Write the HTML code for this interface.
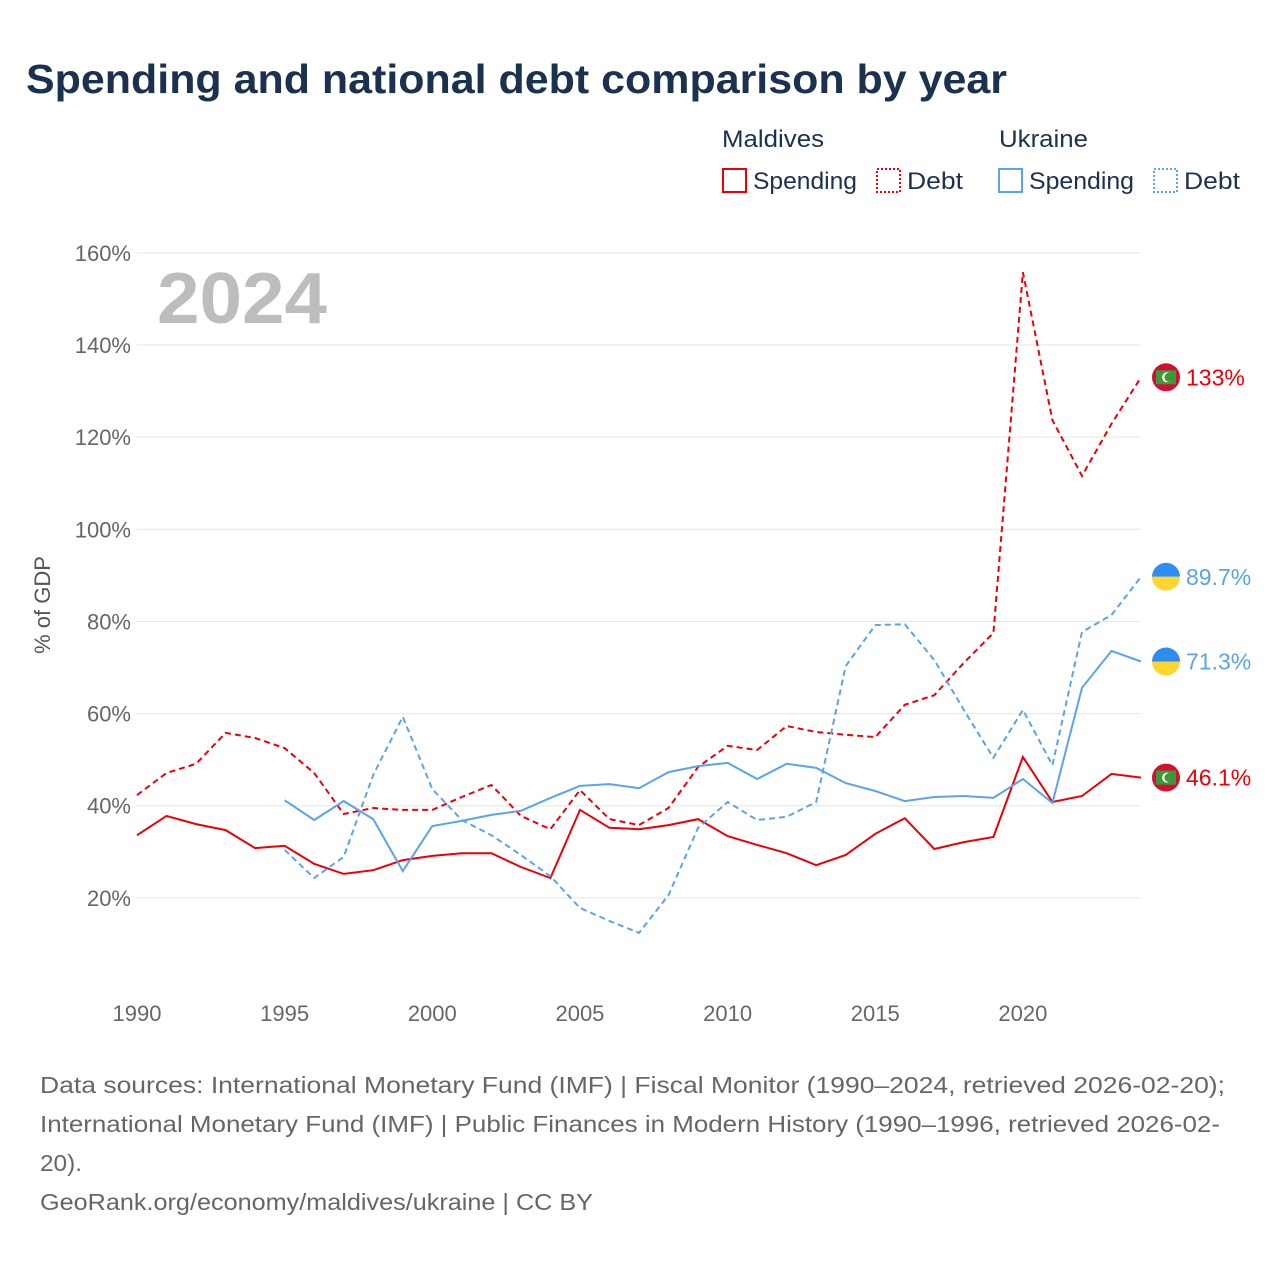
<!DOCTYPE html>
<html><head><meta charset="utf-8"><style>
body{margin:0;background:#fff;font-family:"Liberation Sans",sans-serif}
svg text{font-family:"Liberation Sans",sans-serif}
</style></head><body>
<svg id="c" width="1280" height="1280" xmlns="http://www.w3.org/2000/svg">
<text x="26" y="93" font-size="41" font-weight="bold" fill="#1b3150" textLength="981" lengthAdjust="spacingAndGlyphs">Spending and national debt comparison by year</text>
<g font-size="24" fill="#1b3150">
<text x="722" y="147" textLength="102" lengthAdjust="spacingAndGlyphs">Maldives</text>
<text x="999" y="147" textLength="89" lengthAdjust="spacingAndGlyphs">Ukraine</text>
<g><rect x="723" y="169" width="23" height="23" fill="none" stroke="#e8000b" stroke-width="2"/><text x="753" y="189" textLength="104" lengthAdjust="spacingAndGlyphs">Spending</text></g>
<g><rect x="877" y="169" width="23" height="23" fill="none" stroke="#e8000b" stroke-width="2" stroke-dasharray="2,2"/><text x="907" y="189" textLength="56" lengthAdjust="spacingAndGlyphs">Debt</text></g>
<g><rect x="999" y="169" width="23" height="23" fill="none" stroke="#5ba4e5" stroke-width="2"/><text x="1029" y="189" textLength="105" lengthAdjust="spacingAndGlyphs">Spending</text></g>
<g><rect x="1154" y="169" width="23" height="23" fill="none" stroke="#5ba4e5" stroke-width="2" stroke-dasharray="2,2"/><text x="1184" y="189" textLength="56" lengthAdjust="spacingAndGlyphs">Debt</text></g>
</g>
<text x="157" y="323" font-size="72" font-weight="bold" fill="#bdbdbd" textLength="170" lengthAdjust="spacingAndGlyphs">2024</text>
<g id="grid"></g><g id="axes"></g><g id="series"></g><g id="ends"></g>
<text transform="translate(50,605) rotate(-90)" text-anchor="middle" font-size="22" fill="#555">% of GDP</text>
<g font-size="23" fill="#666">
<text x="40" y="1093" textLength="1185" lengthAdjust="spacingAndGlyphs">Data sources: International Monetary Fund (IMF) | Fiscal Monitor (1990–2024, retrieved 2026-02-20);</text>
<text x="40" y="1132" textLength="1180" lengthAdjust="spacingAndGlyphs">International Monetary Fund (IMF) | Public Finances in Modern History (1990–1996, retrieved 2026-02-</text>
<text x="40" y="1171" textLength="42" lengthAdjust="spacingAndGlyphs">20).</text>
<text x="40" y="1210" textLength="553" lengthAdjust="spacingAndGlyphs">GeoRank.org/economy/maldives/ukraine | CC BY</text>
</g>
</svg>
<script>
const years=[];for(let y=1990;y<=2024;y++)years.push(y);
const yTicks=[20,40,60,80,100,120,140,160];
const xTicks=[1990,1995,2000,2005,2010,2015,2020];
const mdvSpending=[33.6,37.8,36.0,34.7,30.8,31.3,27.4,25.2,26.0,28.2,29.1,29.7,29.7,26.7,24.3,39.1,35.2,34.9,35.8,37.1,33.4,31.5,29.7,27.1,29.3,33.9,37.3,30.6,32.1,33.2,50.6,40.8,42.1,46.9,46.1];
const mdvDebt=[42.3,47.1,49.1,55.8,54.7,52.5,47.1,38.2,39.5,39.1,39.1,41.9,44.5,37.8,34.9,43.4,37.1,35.8,39.5,48.4,53.0,52.1,57.3,56.0,55.4,54.9,61.9,64.0,71.0,77.5,155.8,123.7,111.6,122.9,133];
const ukrSpending=[null,null,null,null,null,41.2,36.9,41.0,37.1,25.8,35.6,36.7,38.0,38.9,41.7,44.3,44.7,43.8,47.3,48.6,49.3,45.8,49.1,48.2,44.9,43.2,41.0,41.9,42.1,41.7,45.8,40.6,65.6,73.6,71.3];
const ukrDebt=[null,null,null,null,null,30.4,24.3,28.9,46.7,59.3,43.6,36.9,33.6,29.3,24.7,17.8,15.0,12.4,20.6,35.2,40.8,36.9,37.6,40.8,70.3,79.2,79.4,71.6,60.8,50.4,60.8,48.8,77.7,81.4,89.7];
const endLabels=["46.1%","133%","71.3%","89.7%"];
const X=y=>137+(y-1990)*29.53, Y=v=>990-v*4.607;
const NS="http://www.w3.org/2000/svg";
function mk(t,a,p){const e=document.createElementNS(NS,t);for(const k in a)e.setAttribute(k,a[k]);document.getElementById(p).appendChild(e);return e;}
yTicks.forEach(v=>{
 const l=mk('line',{x1:137,x2:1141,y1:Y(v),y2:Y(v),stroke:'#e6e6e6','stroke-width':1},'grid');
 
 
 const t=mk('text',{x:131,y:Y(v)+8,'text-anchor':'end','font-size':22,fill:'#666'},'axes');t.textContent=v+'%';
 
 
});
xTicks.forEach(v=>{
 const t=mk('text',{x:X(v),y:1021,'text-anchor':'middle','font-size':22,fill:'#666'},'axes');t.textContent=v;
 
 
});
const RED='#e8000b',BLUE='#5ba4e5';
const series=[[mdvSpending,RED,'','maldives-spending'],[mdvDebt,RED,'6,4','maldives-debt'],[ukrSpending,BLUE,'','ukraine-spending'],[ukrDebt,BLUE,'6,4','ukraine-debt']];
series.forEach((s,i)=>{
 let d='';s[0].forEach((v,j)=>{if(v==null)return;d+=(d?'L':'M')+X(years[j]).toFixed(1)+','+Y(v).toFixed(1);});
 const p=mk('path',{d:d,fill:'none',stroke:s[1],'stroke-width':2,'stroke-dasharray':s[2]},'series');
 
 
 const v=s[0][s[0].length-1],cy=Y(v),cx=1166;
 const g=mk('g',{},'ends');
 
 
 const add=(t,a)=>{const e=document.createElementNS(NS,t);for(const k in a)e.setAttribute(k,a[k]);g.appendChild(e);return e;};
 if(i<2){
  add('circle',{cx:cx,cy:cy,r:14,fill:'#d21034'});
  add('rect',{x:cx-10,y:cy-7,width:20,height:14,fill:'#3a9a3a'});
  add('circle',{cx:cx+1,cy:cy,r:5,fill:'#fff'});add('circle',{cx:cx+3,cy:cy,r:4.5,fill:'#3a9a3a'});
 }else{
  add('path',{d:`M${cx-14},${cy}A14,14 0 0 1 ${cx+14},${cy}Z`,fill:'#2f8cf0'});
  add('path',{d:`M${cx-14},${cy}A14,14 0 0 0 ${cx+14},${cy}Z`,fill:'#ffd630'});
 }
 const t=add('text',{x:1186,y:cy+8,'font-size':23,fill:s[1]});t.textContent=endLabels[i];
});
</script>
</body></html>
